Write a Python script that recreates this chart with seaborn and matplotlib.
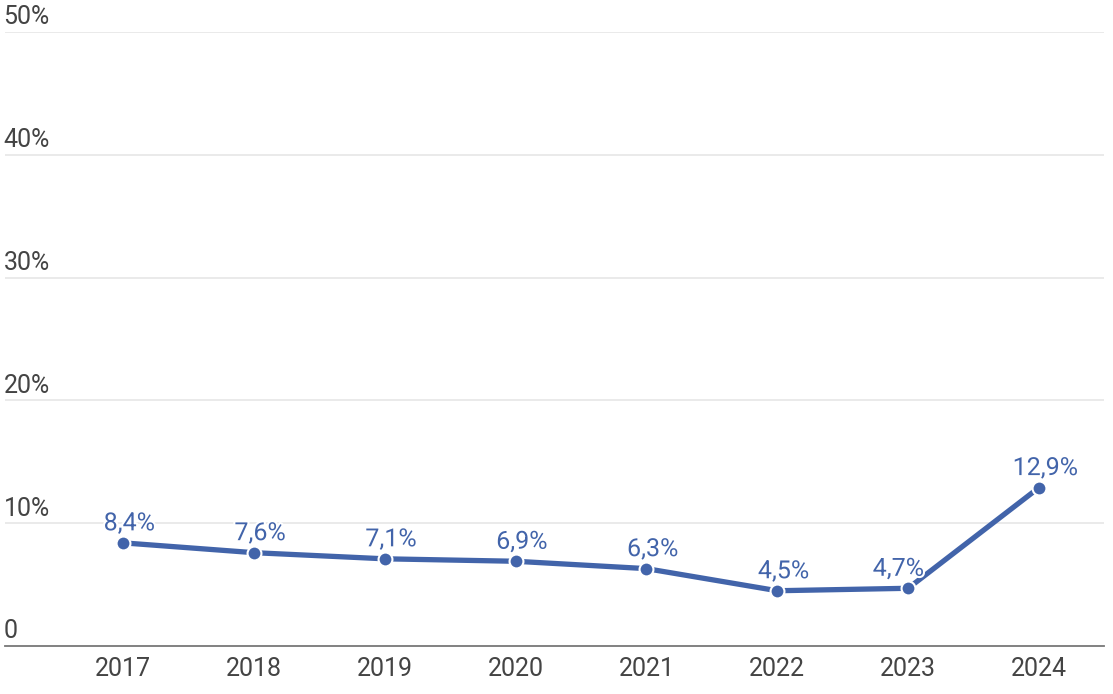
import matplotlib
matplotlib.use("Agg")
import matplotlib.pyplot as plt
import matplotlib.transforms as mtransforms
import matplotlib.patheffects as pe
import seaborn as sns
import pandas as pd

years = [2017, 2018, 2019, 2020, 2021, 2022, 2023, 2024]
values = [8.4, 7.6, 7.1, 6.9, 6.3, 4.5, 4.7, 12.9]
value_labels = ["8,4%", "7,6%", "7,1%", "6,9%", "6,3%", "4,5%", "4,7%", "12,9%"]
y_ticks = [0, 10, 20, 30, 40, 50]
y_tick_labels = ["0", "10%", "20%", "30%", "40%", "50%"]

sns.set_style("white")
plt.rcParams["font.family"] = ["Roboto", "DejaVu Sans"]

LINE = "#4264aa"
TXT = "#444444"

df = pd.DataFrame({"year": years, "value": values})

fig = plt.figure(figsize=(11.13, 6.94), dpi=100)
ax = fig.add_axes([5 / 1113, 1 - 646 / 694, 1099 / 1113, 614 / 694])

sns.lineplot(data=df, x="year", y="value", ax=ax, color=LINE, linewidth=3.8,
             marker="o", markersize=10, markeredgecolor="white",
             markeredgewidth=1.5, zorder=3)

ax.set_xlim(2016.098, 2024.497)
ax.set_ylim(0, 50)
ax.set_xticks(years)
ax.set_xticklabels([str(y) for y in years], fontsize=18, color=TXT)
ax.tick_params(axis="x", length=0, pad=8)
ax.set_yticks(y_ticks)
ax.set_yticklabels([])
ax.tick_params(axis="y", length=0)
ax.set_xlabel("")
ax.set_ylabel("")

for s in ["top", "right", "left"]:
    ax.spines[s].set_visible(False)
ax.spines["bottom"].set_color("#777777")
ax.spines["bottom"].set_linewidth(1.3)

for yv in y_ticks[1:]:
    ax.axhline(yv, color="#e8e8e8", linewidth=1.3, zorder=1)

trans = mtransforms.blended_transform_factory(ax.transAxes, ax.transData)
trans_off = mtransforms.offset_copy(trans, fig=fig, x=-1, y=5.5, units="points")
for yv, lab in zip(y_ticks, y_tick_labels):
    ax.text(0, yv, lab, transform=trans_off, ha="left", va="baseline",
            fontsize=18, color=TXT)

for i, (x, y, lab) in enumerate(zip(years, values, value_labels)):
    # place the label left of the point when the next segment rises steeply
    steep = i + 1 < len(values) and values[i + 1] - y > 3
    dx = -7 if steep else 4.5
    ax.annotate(lab, (x, y), xytext=(dx, 9), textcoords="offset points",
                ha="center", va="baseline", fontsize=18, color=LINE, zorder=4,
                path_effects=[pe.withStroke(linewidth=3, foreground="white")])

fig.savefig("out.png", dpi=100)
